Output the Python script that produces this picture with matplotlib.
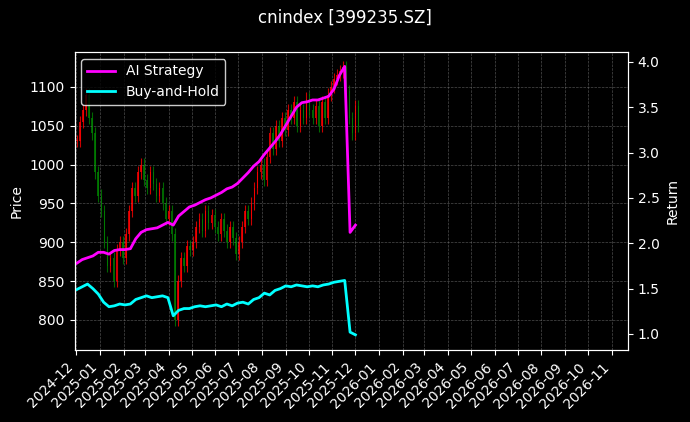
import matplotlib
matplotlib.use("Agg")
import matplotlib.pyplot as plt
import matplotlib.dates as mdates
import numpy as np
import pandas as pd

# price closes, one every 4 days from 2024-12-02
price_dates = pd.date_range("2024-12-02", periods=93, freq="4D")
closes = [
    1030, 1055, 1070, 1090, 1060, 1040, 990, 960,
    940, 900, 870, 880, 850, 890, 900, 880,
    910, 940, 970, 960, 990, 1000, 980,
    970, 990, 975, 960, 970, 950, 930, 940,
    910, 800, 850, 880, 870, 895, 890, 900,
    920, 930, 915, 940, 925, 935, 920, 910,
    930, 915, 900, 920, 905, 885, 900,
    920, 940, 930, 950, 970, 990, 1000, 980,
    1010, 1040, 1020, 1050, 1030, 1060, 1045, 1070,
    1060, 1080, 1050, 1070, 1060, 1085, 1070,
    1060, 1075, 1050, 1080, 1060, 1090, 1100, 1110,
    1115, 1120, 1125, 1095, 1060, 1040, 1075, 1050,
]

# weekly cumulative returns
ret_dates = pd.date_range("2024-12-02", periods=53, freq="7D")
ai_strategy = [
    1.78, 1.82, 1.84, 1.86, 1.90,
    1.90, 1.88, 1.92, 1.93,
    1.93, 1.94, 2.05, 2.12,
    2.15, 2.16, 2.17, 2.20, 2.23,
    2.20, 2.30, 2.35, 2.40,
    2.42, 2.45, 2.48, 2.50, 2.53,
    2.56, 2.60, 2.62, 2.66,
    2.72, 2.78, 2.85, 2.90,
    2.98, 3.05, 3.12, 3.20,
    3.30, 3.40, 3.50, 3.55, 3.56,
    3.58, 3.58, 3.60, 3.62,
    3.70, 3.85, 3.95, 2.12,
    2.20,
]
buy_hold = [
    1.49, 1.52, 1.55, 1.50, 1.44,
    1.35, 1.30, 1.31, 1.33,
    1.32, 1.33, 1.38, 1.40,
    1.42, 1.40, 1.41, 1.42, 1.40,
    1.20, 1.26, 1.28, 1.28,
    1.30, 1.31, 1.30, 1.31, 1.32,
    1.30, 1.33, 1.31, 1.34,
    1.35, 1.33, 1.38, 1.40,
    1.45, 1.43, 1.48, 1.50,
    1.53, 1.52, 1.54, 1.53, 1.52,
    1.53, 1.52, 1.54, 1.55,
    1.57, 1.58, 1.59, 1.02,
    0.99,
]

plt.style.use("dark_background")
fig, ax = plt.subplots(figsize=(6.9, 4.22), dpi=100)

opens = [closes[0]] + closes[:-1]
x = mdates.date2num(price_dates)
for xi, o, c in zip(x, opens, closes):
    color = "red" if c >= o else "green"
    hi = max(o, c) + 8
    lo = min(o, c) - 8
    ax.vlines(xi, lo, hi, color=color, linewidth=0.8, alpha=0.8)
    ax.bar(xi, abs(c - o) or 1, bottom=min(o, c), width=2.0, color=color, alpha=0.8)

ax.set_ylabel("Price")
ax.set_ylim(761, 1145)
ax.set_xlim(pd.Timestamp("2024-11-29"), pd.Timestamp("2026-11-22"))
ax.xaxis.set_major_locator(mdates.MonthLocator())
ax.xaxis.set_major_formatter(mdates.DateFormatter("%Y-%m"))
plt.setp(ax.get_xticklabels(), rotation=45, ha="right")
ax.grid(True, linestyle="--", linewidth=0.5, color="gray", alpha=0.6)

ax2 = ax.twinx()
ax2.plot(ret_dates, ai_strategy, color="magenta", linewidth=2, label="AI Strategy")
ax2.plot(ret_dates, buy_hold, color="cyan", linewidth=2, label="Buy-and-Hold")
ax2.set_ylabel("Return")
ax2.set_ylim(0.82, 4.11)
ax2.legend(loc="upper left", edgecolor="white")

fig.suptitle("cnindex [399235.SZ]")
fig.subplots_adjust(left=0.108, right=0.91, top=0.877, bottom=0.17)
fig.savefig("out.png", dpi=100)
